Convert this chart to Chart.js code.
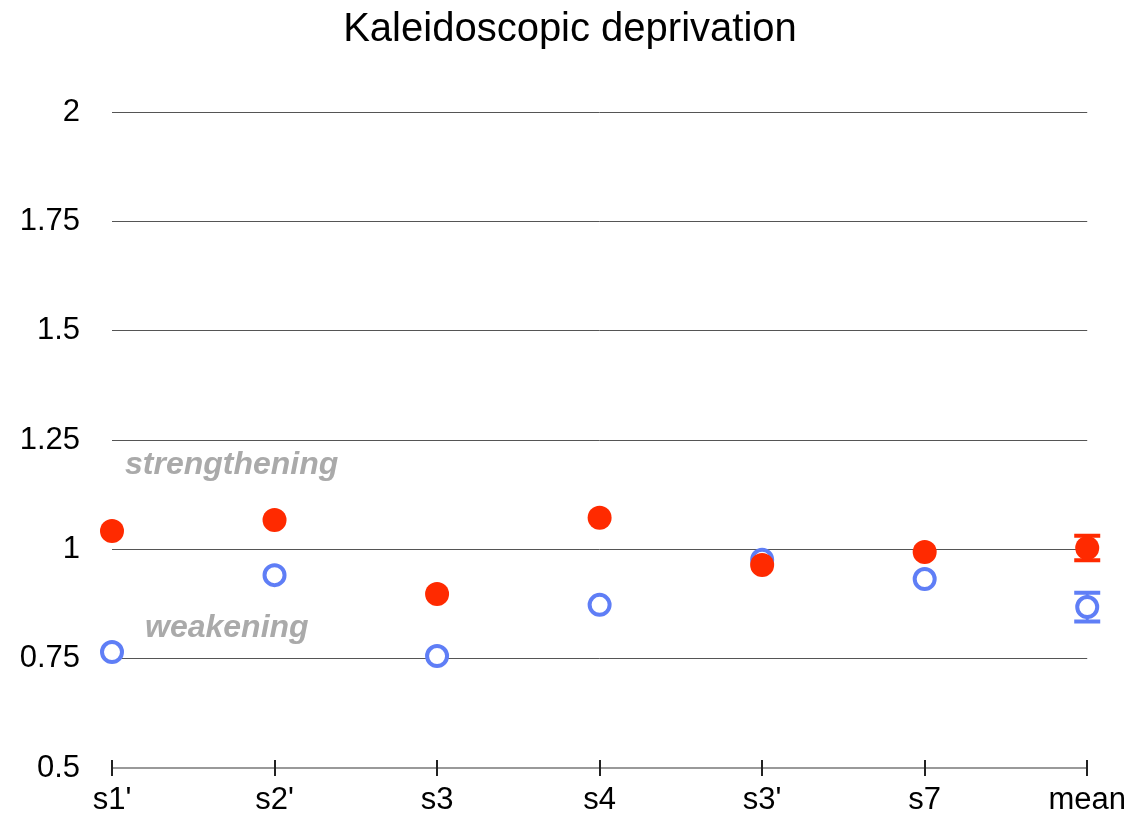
<!DOCTYPE html>
<html>
<head>
<meta charset="utf-8">
<script src="https://cdn.jsdelivr.net/npm/chart.js@4"></script>
<style>
  body { margin: 0; background: #fff; }
  #wrap { width: 1140px; height: 819px; }
</style>
</head>
<body>
<div id="wrap"><canvas id="chart"></canvas></div>
<script>
const title = "Kaleidoscopic deprivation";
const labels = ["s1'", "s2'", "s3", "s4", "s3'", "s7", "mean"];
const strengthening = [1.042, 1.067, 0.898, 1.072, 0.964, 0.994, 1.003];
const weakening = [0.765, 0.941, 0.756, 0.873, 0.976, 0.932, 0.868];
const strengtheningErr = [null, null, null, null, null, null, 0.028];
const weakeningErr = [null, null, null, null, null, null, 0.033];
const yTickLabels = ["0.5", "0.75", "1", "1.25", "1.5", "1.75", "2"];
const yMin = 0.5, yMax = 2, yStep = 0.25;

const RED = "#ff2a00";
const BLUE = "#5f7ef6";
const FONT = "'Liberation Sans', Arial, Helvetica, sans-serif";

// error bars for the mean column, drawn under the markers
const errorBars = {
  id: "errorBars",
  beforeDatasetsDraw(chart) {
    const { ctx, scales: { x, y } } = chart;
    const sets = [[weakening, weakeningErr, BLUE], [strengthening, strengtheningErr, RED]];
    ctx.save();
    sets.forEach(([vals, errs, color]) => {
      ctx.strokeStyle = color;
      errs.forEach((e, i) => {
        if (e == null) return;
        const px = x.getPixelForValue(i);
        const top = y.getPixelForValue(vals[i] + e);
        const bot = y.getPixelForValue(vals[i] - e);
        ctx.lineWidth = 3;
        ctx.beginPath();
        ctx.moveTo(px, top); ctx.lineTo(px, bot);
        ctx.stroke();
        ctx.lineWidth = 4;
        ctx.beginPath();
        ctx.moveTo(px - 13, top); ctx.lineTo(px + 13, top);
        ctx.moveTo(px - 13, bot); ctx.lineTo(px + 13, bot);
        ctx.stroke();
      });
    });
    ctx.restore();
  }
};

// title, tick marks across the bottom axis, gray notes
const extras = {
  id: "extras",
  afterDraw(chart) {
    const { ctx, scales: { x, y } } = chart;
    ctx.save();
    ctx.fillStyle = "#000";
    ctx.font = "40px " + FONT;
    ctx.textAlign = "center";
    ctx.textBaseline = "middle";
    ctx.fillText(title, chart.width / 2, 30);

    ctx.strokeStyle = "#222";
    ctx.lineWidth = 2;
    const base = y.getPixelForValue(yMin);
    labels.forEach((l, i) => {
      const px = Math.round(x.getPixelForValue(i));
      ctx.beginPath();
      ctx.moveTo(px, base - 8);
      ctx.lineTo(px, base + 8);
      ctx.stroke();
    });

    ctx.fillStyle = "#aaaaaa";
    ctx.font = "italic bold 32px " + FONT;
    ctx.textAlign = "left";
    ctx.fillText("strengthening", x.getPixelForValue(0) + 13, y.getPixelForValue(1.193));
    ctx.fillText("weakening", x.getPixelForValue(0) + 33, y.getPixelForValue(0.82));
    ctx.restore();
  }
};

new Chart(document.getElementById("chart"), {
  type: "line",
  data: {
    labels: labels,
    datasets: [
      {
        label: "strengthening",
        data: strengthening,
        showLine: false,
        pointRadius: 12,
        pointHoverRadius: 12,
        pointBackgroundColor: RED,
        pointBorderColor: RED,
        pointBorderWidth: 0,
        clip: false
      },
      {
        label: "weakening",
        data: weakening,
        showLine: false,
        pointRadius: 10,
        pointHoverRadius: 10,
        pointBackgroundColor: "#fff",
        pointBorderColor: BLUE,
        pointBorderWidth: 4,
        clip: false
      }
    ]
  },
  options: {
    responsive: true,
    maintainAspectRatio: false,
    animation: false,
    layout: { padding: { right: 51, left: 0, top: 112, bottom: 0 } },
    plugins: {
      legend: { display: false },
      tooltip: { enabled: false },
      title: { display: false }
    },
    scales: {
      x: {
        offset: false,
        grid: { display: false, drawTicks: false },
        border: { display: true, color: "#999", width: 2 },
        ticks: { color: "#000", font: { family: FONT, size: 31 }, padding: 14, maxRotation: 0 },
        afterFit(s) { s.height = 51; }
      },
      y: {
        min: yMin,
        max: yMax,
        grid: {
          drawTicks: false,
          color: (c) => c.tick && c.tick.value === yMin ? "rgba(0,0,0,0)" : "#555",
          lineWidth: 1
        },
        border: { display: false },
        ticks: {
          stepSize: yStep,
          color: "#000",
          font: { family: FONT, size: 31 },
          padding: 32,
          callback: (v, i) => yTickLabels[i]
        },
        afterFit(s) { s.width = 112; }
      }
    }
  },
  plugins: [errorBars, extras]
});
</script>
</body>
</html>
